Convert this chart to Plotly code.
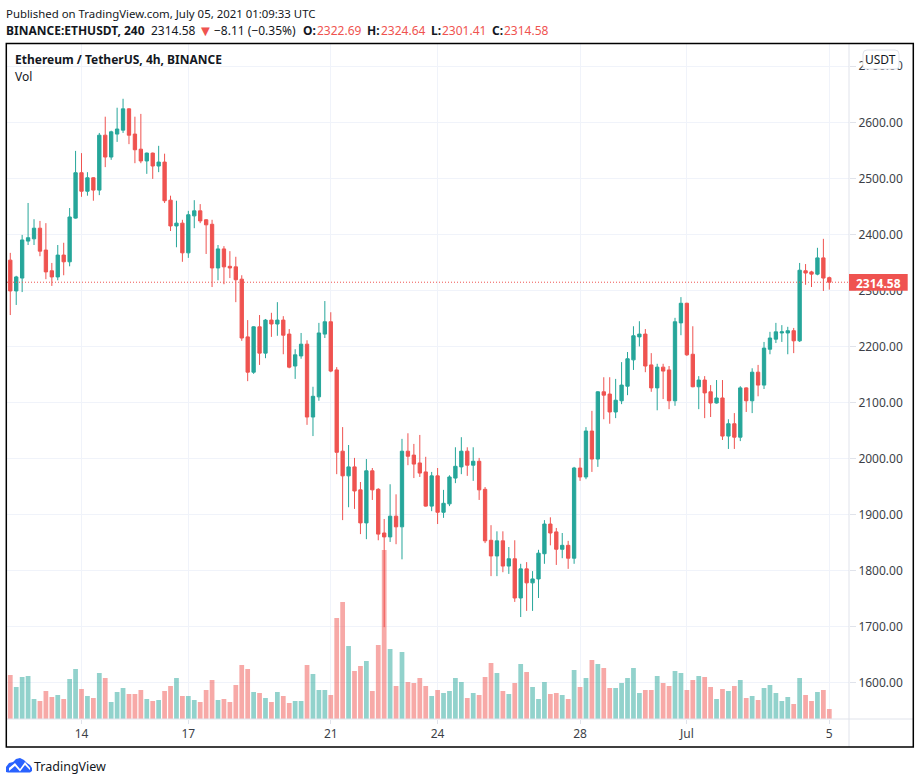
import pandas as pd
import plotly.graph_objects as go

# 4h candles, Jun 12 00:00 to Jul 5 00:00
open_ = [
    2354, 2299, 2322, 2388, 2392, 2411, 2372, 2335, 2324, 2363, 2351, 2429, 2510, 2477, 2501, 2479, 2577, 2538, 2579, 2586,
    2624, 2579, 2552, 2531, 2545, 2522, 2529, 2461, 2415, 2420, 2367, 2433, 2442, 2426, 2418, 2340, 2374, 2343, 2342, 2320,
    2217, 2154, 2235, 2188, 2247, 2240, 2247, 2222, 2165, 2183, 2204, 2074, 2110, 2222, 2244, 2158, 2013, 1969, 1985, 1944,
    1885, 1978, 1945, 1867, 1860, 1897, 1878, 2013, 2006, 1992, 1976, 1915, 1969, 1904, 1919, 1965, 1985, 2013, 1988, 1995,
    1945, 1854, 1826, 1853, 1808, 1821, 1751, 1803, 1778, 1785, 1830, 1883, 1869, 1838, 1845, 1822, 1983, 1967, 2049, 1999,
    2119, 2115, 2083, 2103, 2129, 2176, 2217, 2222, 2167, 2126, 2163, 2158, 2103, 2242, 2277, 2186, 2128, 2140, 2119, 2099,
    2108, 2040, 2062, 2038, 2126, 2103, 2154, 2131, 2195, 2213, 2224, 2224, 2228, 2210, 2335, 2333, 2329, 2358, 2322.69,
]
high = [
    2367, 2326, 2399, 2456, 2427, 2424, 2420, 2349, 2381, 2385, 2447, 2549, 2545, 2511, 2502, 2581, 2610, 2585, 2626, 2642,
    2625, 2610, 2615, 2546, 2546, 2558, 2544, 2469, 2460, 2426, 2442, 2461, 2454, 2427, 2426, 2381, 2379, 2370, 2360, 2327,
    2247, 2236, 2256, 2249, 2260, 2279, 2254, 2231, 2195, 2224, 2211, 2128, 2242, 2281, 2261, 2163, 2056, 2024, 2001, 1958,
    1999, 1983, 1947, 1892, 1954, 1936, 2035, 2045, 2026, 2042, 2003, 1976, 1983, 1944, 1970, 2020, 2038, 2020, 2020, 2001,
    1949, 1881, 1870, 1870, 1842, 1854, 1812, 1815, 1799, 1837, 1890, 1895, 1876, 1867, 1853, 1985, 2001, 2056, 2085, 2120,
    2145, 2145, 2142, 2172, 2190, 2236, 2245, 2231, 2188, 2169, 2169, 2165, 2251, 2288, 2278, 2236, 2147, 2147, 2131, 2140,
    2140, 2070, 2081, 2129, 2127, 2161, 2167, 2208, 2226, 2242, 2238, 2235, 2233, 2349, 2347, 2335, 2376, 2392, 2324.64,
]
low = [
    2256, 2274, 2297, 2381, 2381, 2361, 2320, 2308, 2318, 2327, 2343, 2428, 2467, 2469, 2460, 2470, 2520, 2533, 2565, 2581,
    2561, 2527, 2527, 2508, 2499, 2511, 2456, 2406, 2377, 2351, 2358, 2411, 2420, 2365, 2306, 2318, 2311, 2322, 2279, 2210,
    2138, 2151, 2167, 2179, 2217, 2219, 2186, 2161, 2142, 2178, 2060, 2040, 2103, 2215, 2154, 1972, 1890, 1913, 1910, 1865,
    1856, 1926, 1854, 1699, 1851, 1847, 1820, 1988, 1965, 1967, 1914, 1906, 1883, 1894, 1915, 1956, 1972, 1969, 1960, 1926,
    1849, 1790, 1790, 1797, 1794, 1744, 1717, 1728, 1728, 1751, 1812, 1845, 1810, 1822, 1803, 1812, 1960, 1963, 1976, 1985,
    2070, 2062, 2072, 2097, 2113, 2158, 2200, 2154, 2119, 2086, 2106, 2088, 2094, 2220, 2183, 2127, 2088, 2072, 2074, 2098,
    2033, 2017, 2017, 2031, 2083, 2081, 2111, 2124, 2186, 2206, 2208, 2186, 2188, 2208, 2310, 2306, 2327, 2299, 2301.41,
]
close = [
    2299, 2324, 2390, 2394, 2411, 2370, 2333, 2324, 2363, 2351, 2431, 2510, 2477, 2501, 2479, 2577, 2538, 2583, 2588, 2624,
    2577, 2551, 2531, 2545, 2522, 2529, 2460, 2415, 2420, 2367, 2435, 2442, 2424, 2417, 2340, 2374, 2342, 2340, 2319, 2215,
    2154, 2235, 2188, 2247, 2240, 2247, 2220, 2163, 2185, 2204, 2074, 2111, 2224, 2244, 2156, 2011, 1969, 1985, 1942, 1885,
    1978, 1944, 1865, 1860, 1897, 1878, 2013, 2004, 1990, 1974, 1915, 1969, 1904, 1920, 1967, 1986, 2013, 1988, 1995, 1944,
    1853, 1826, 1853, 1808, 1821, 1751, 1803, 1778, 1785, 1831, 1883, 1867, 1838, 1845, 1822, 1983, 1967, 2049, 1999, 2119,
    2113, 2083, 2104, 2131, 2178, 2219, 2222, 2165, 2126, 2163, 2156, 2103, 2244, 2277, 2185, 2128, 2140, 2117, 2099, 2108,
    2040, 2062, 2038, 2126, 2103, 2154, 2131, 2197, 2215, 2226, 2226, 2228, 2210, 2336, 2331, 2329, 2358, 2322, 2314.58,
]
# volume in thousands of ETH (rough, the chart has no scale for it)
volume = [
    132, 96, 126, 129, 60, 54, 84, 66, 72, 60, 120, 150, 90, 69, 63, 138, 123, 51, 81, 93,
    75, 75, 87, 60, 54, 57, 84, 99, 123, 69, 69, 57, 51, 87, 117, 57, 60, 51, 102, 162,
    150, 81, 78, 63, 51, 81, 69, 48, 54, 54, 162, 135, 87, 87, 72, 303, 351, 219, 144, 159,
    174, 84, 222, 507, 210, 99, 201, 111, 108, 123, 99, 69, 87, 78, 84, 123, 111, 63, 78, 72,
    126, 168, 138, 84, 75, 108, 165, 141, 96, 60, 111, 75, 78, 72, 60, 147, 96, 123, 177, 165,
    153, 93, 93, 108, 123, 153, 78, 87, 87, 129, 108, 99, 144, 138, 87, 117, 129, 126, 96, 60,
    90, 84, 99, 117, 63, 69, 57, 93, 102, 78, 54, 66, 45, 123, 72, 54, 81, 87, 30,
]
dates = pd.date_range("2021-06-12", periods=len(close), freq="4h")

tick_dates = ["2021-06-14", "2021-06-17", "2021-06-21", "2021-06-24", "2021-06-28", "2021-07-01", "2021-07-05"]
tick_labels = ["14", "17", "21", "24", "28", "Jul", "5"]
last_price = 2314.58

GREEN = "#26a69a"
RED = "#ef5350"
GRID = "#f0f3fa"
AXIS = "#e0e3eb"
TEXT = "#131722"
FONT = "Noto Sans"

# plot area in pixels
LEFT, RIGHT, TOP, BOTTOM = 7, 849, 44, 719


def px(x):
    return (x - LEFT) / (RIGHT - LEFT)


def py(y):
    return (BOTTOM - y) / (BOTTOM - TOP)


def path(points):
    # pixel polygon -> svg path in paper coordinates
    return "M" + " L".join(f"{px(x):.5f},{py(y):.5f}" for x, y in points) + " Z"


def note(x, y, text, size=12, color=TEXT, anchor="left"):
    return dict(xref="paper", yref="paper", x=px(x), y=py(y), text=text, showarrow=False,
                xanchor=anchor, yanchor="middle", align="left", xshift=-2,
                font=dict(family=FONT, size=size, color=color))


fig = go.Figure()

vol_colors = ["rgba(38,166,154,0.5)" if c >= o else "rgba(239,83,80,0.5)" for o, c in zip(open_, close)]
fig.add_trace(go.Bar(x=dates, y=volume, marker=dict(color=vol_colors, line_width=0), yaxis="y"))

fig.add_trace(go.Candlestick(
    x=dates, open=open_, high=high, low=low, close=close, yaxis="y2",
    increasing=dict(line=dict(color=GREEN, width=1), fillcolor=GREEN),
    decreasing=dict(line=dict(color=RED, width=1), fillcolor=RED),
))

annotations = [
    note(6, 13, "Published on TradingView.com, July 05, 2021 01:09:33 UTC", size=11.4),
    note(6, 30, "<b>BINANCE:ETHUSDT, 240</b>"),
    note(151, 30, "2314.58"),
    note(198, 30, "▼", size=15, color=RED),
    note(214, 30, "−8.11 (−0.35%)"),
    note(303, 30, "<b>O:</b>"),
    note(317, 30, "2322.69", color=RED),
    note(367, 30, "<b>H:</b>"),
    note(381, 30, "2324.64", color=RED),
    note(431, 30, "<b>L:</b>"),
    note(442, 30, "2301.41", color=RED),
    note(492, 30, "<b>C:</b>"),
    note(504, 30, "2314.58", color=RED),
    note(15, 60, "<b>Ethereum / TetherUS, 4h, BINANCE</b>"),
    note(15, 77, "Vol"),
    note(34, 766, "TradingView", size=12.5),
    note(880, 283, "<b>2314.58</b>", color="white", anchor="center"),
    note(883, 59.5, "USDT", anchor="center"),
]

# rounded USDT badge
bx0, bx1, by0, by1, r = 863, 899, 50, 69, 4
badge = (f"M{px(bx0 + r):.5f},{py(by0):.5f} L{px(bx1 - r):.5f},{py(by0):.5f} "
         f"Q{px(bx1):.5f},{py(by0):.5f} {px(bx1):.5f},{py(by0 + r):.5f} "
         f"L{px(bx1):.5f},{py(by1 - r):.5f} Q{px(bx1):.5f},{py(by1):.5f} {px(bx1 - r):.5f},{py(by1):.5f} "
         f"L{px(bx0 + r):.5f},{py(by1):.5f} Q{px(bx0):.5f},{py(by1):.5f} {px(bx0):.5f},{py(by1 - r):.5f} "
         f"L{px(bx0):.5f},{py(by0 + r):.5f} Q{px(bx0):.5f},{py(by0):.5f} {px(bx0 + r):.5f},{py(by0):.5f} Z")

cloud = [(6, 772), (6, 767), (9, 763), (13, 762), (16, 759), (20, 758), (24, 760), (27, 763), (30, 765), (32, 768),
         (32, 771), (30, 772.5), (8, 772.5)]
zigzag = [(9, 768), (15, 763), (20, 769), (25, 762), (30, 768), (30, 770), (25, 765), (20, 771.5), (15, 766), (9, 771)]

shapes = [
    # axis separators
    dict(type="line", xref="paper", yref="paper", x0=px(6), x1=px(913), y0=0, y1=0, line=dict(color=AXIS, width=1)),
    dict(type="line", xref="paper", yref="paper", x0=1, x1=1, y0=1, y1=py(747), line=dict(color=AXIS, width=1)),
    # last price line and label
    dict(type="line", xref="paper", yref="y2", x0=0, x1=1, y0=last_price, y1=last_price,
         line=dict(color=RED, width=1, dash="1px,2px")),
    dict(type="rect", xref="paper", yref="paper", x0=1, x1=px(907.7), y0=py(274), y1=py(290.7),
         fillcolor=RED, line_width=0),
    dict(type="path", xref="paper", yref="paper", path=badge, fillcolor="white", line=dict(color=AXIS, width=1)),
    # outer frame
    dict(type="rect", xref="paper", yref="paper", x0=px(6.3), x1=px(913.3), y0=py(747), y1=py(43.5),
         line=dict(color="black", width=1.5)),
    # logo
    dict(type="path", xref="paper", yref="paper", path=path(cloud), fillcolor="#2962ff", line_width=0),
    dict(type="path", xref="paper", yref="paper", path=path(zigzag), fillcolor="white", line_width=0),
]

# x range so that one 4h candle takes 5.935 px and Jun 14 sits at x=81.5
step = pd.Timedelta(hours=4)
anchor_day = pd.Timestamp("2021-06-14")
x_start = anchor_day - step * ((81.5 - LEFT) / 5.935)
x_end = anchor_day + step * ((RIGHT - 81.5) / 5.935)

# price per pixel from the gridlines (2600 at y=122.3, 1600 at y=682.6)
price_top = 2600 + (122.3 - TOP) / 0.5603
price_bottom = 2600 - (BOTTOM - 122.3) / 0.5603

fig.update_layout(
    width=920, height=784,
    margin=dict(l=LEFT, r=920 - RIGHT, t=TOP, b=784 - BOTTOM, autoexpand=False),
    paper_bgcolor="white", plot_bgcolor="white",
    showlegend=False, bargap=0.2, boxgap=0.2,
    font=dict(family=FONT, size=12, color=TEXT),
    annotations=annotations, shapes=shapes,
    xaxis=dict(
        type="date", range=[x_start, x_end], rangeslider=dict(visible=False),
        tickmode="array", tickvals=tick_dates, ticktext=tick_labels,
        showgrid=True, gridcolor=GRID, gridwidth=1, zeroline=False,
        ticks="outside", ticklen=4, tickcolor=AXIS,
        tickfont=dict(family=FONT, size=12, color="#3c3f48"),
    ),
    yaxis=dict(range=[0, (BOTTOM - TOP) * 3], visible=False),
    yaxis2=dict(
        overlaying="y", side="right", range=[price_bottom, price_top],
        dtick=100, tick0=1600, tickformat=".2f",
        showgrid=True, gridcolor=GRID, gridwidth=1, zeroline=False,
        ticks="outside", ticklen=6, tickcolor=AXIS,
        tickfont=dict(family=FONT, size=12, color="#3c3f48"),
    ),
)

# the page's default body margin would push the fixed-size figure off by 8px
fig.write_html("out.html", config={"displayModeBar": False}, post_script="document.body.style.margin='0';")
